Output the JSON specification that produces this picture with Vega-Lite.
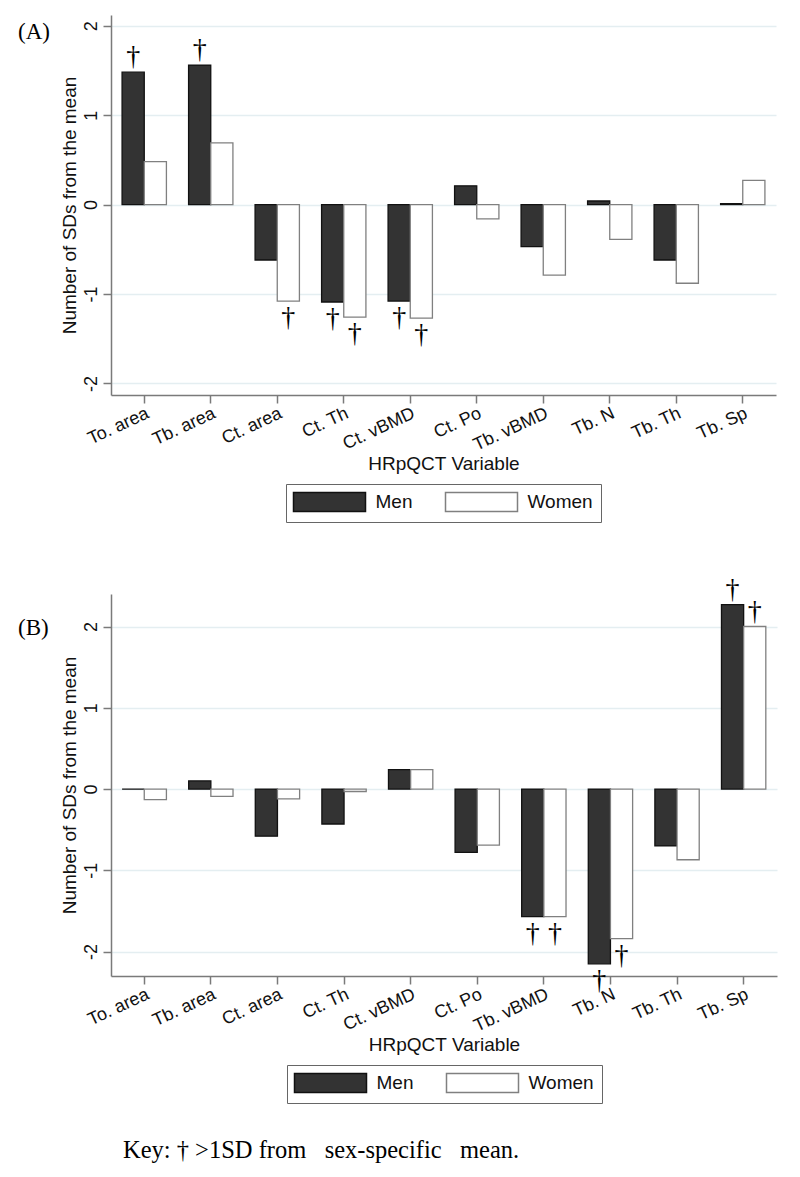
{
  "$schema": "https://vega.github.io/schema/vega-lite/v6.json",
  "background": "white",
  "padding": {"left": 18, "top": 15, "right": 5, "bottom": 5},
  "config": {
    "font": "Liberation Sans",
    "view": {"stroke": null},
    "axis": {
      "labelFont": "Liberation Sans",
      "titleFont": "Liberation Sans",
      "labelColor": "#111111",
      "titleColor": "#111111",
      "titleFontWeight": "normal",
      "domainColor": "#7a7a7a",
      "tickColor": "#7a7a7a",
      "domainWidth": 1.5,
      "tickWidth": 1.5,
      "tickSize": 8,
      "gridColor": "#e4eef1",
      "gridWidth": 1.3,
      "labelFontSize": 18,
      "titleFontSize": 19
    },
    "legend": {
      "orient": "bottom",
      "direction": "horizontal",
      "title": null,
      "symbolType": "M-1.105,-1H6.474V1H-1.105Z",
      "symbolSize": 361,
      "symbolStrokeWidth": 1.5,
      "labelFont": "Liberation Sans",
      "labelFontSize": 19,
      "labelColor": "#111111",
      "labelOffset": 61,
      "columnPadding": 30,
      "padding": 7.5,
      "strokeColor": "#666666",
      "fillColor": "white",
      "offset": 10,
      "layout": {"bottom": {"anchor": "middle"}}
    }
  },
  "data": {
    "values": [
      {"panel": "A", "var": "To. area", "sex": "Men", "value": 1.48, "sig": 1},
      {"panel": "A", "var": "To. area", "sex": "Women", "value": 0.48, "sig": 0},
      {"panel": "A", "var": "Tb. area", "sex": "Men", "value": 1.56, "sig": 1},
      {"panel": "A", "var": "Tb. area", "sex": "Women", "value": 0.69, "sig": 0},
      {"panel": "A", "var": "Ct. area", "sex": "Men", "value": -0.62, "sig": 0},
      {"panel": "A", "var": "Ct. area", "sex": "Women", "value": -1.08, "sig": 1},
      {"panel": "A", "var": "Ct. Th", "sex": "Men", "value": -1.09, "sig": 1},
      {"panel": "A", "var": "Ct. Th", "sex": "Women", "value": -1.26, "sig": 1},
      {"panel": "A", "var": "Ct. vBMD", "sex": "Men", "value": -1.08, "sig": 1},
      {"panel": "A", "var": "Ct. vBMD", "sex": "Women", "value": -1.27, "sig": 1},
      {"panel": "A", "var": "Ct. Po", "sex": "Men", "value": 0.21, "sig": 0},
      {"panel": "A", "var": "Ct. Po", "sex": "Women", "value": -0.16, "sig": 0},
      {"panel": "A", "var": "Tb. vBMD", "sex": "Men", "value": -0.47, "sig": 0},
      {"panel": "A", "var": "Tb. vBMD", "sex": "Women", "value": -0.79, "sig": 0},
      {"panel": "A", "var": "Tb. N", "sex": "Men", "value": 0.04, "sig": 0},
      {"panel": "A", "var": "Tb. N", "sex": "Women", "value": -0.39, "sig": 0},
      {"panel": "A", "var": "Tb. Th", "sex": "Men", "value": -0.62, "sig": 0},
      {"panel": "A", "var": "Tb. Th", "sex": "Women", "value": -0.88, "sig": 0},
      {"panel": "A", "var": "Tb. Sp", "sex": "Men", "value": 0.01, "sig": 0},
      {"panel": "A", "var": "Tb. Sp", "sex": "Women", "value": 0.27, "sig": 0},
      {"panel": "B", "var": "To. area", "sex": "Men", "value": 0.0, "sig": 0},
      {"panel": "B", "var": "To. area", "sex": "Women", "value": -0.13, "sig": 0},
      {"panel": "B", "var": "Tb. area", "sex": "Men", "value": 0.1, "sig": 0},
      {"panel": "B", "var": "Tb. area", "sex": "Women", "value": -0.09, "sig": 0},
      {"panel": "B", "var": "Ct. area", "sex": "Men", "value": -0.58, "sig": 0},
      {"panel": "B", "var": "Ct. area", "sex": "Women", "value": -0.12, "sig": 0},
      {"panel": "B", "var": "Ct. Th", "sex": "Men", "value": -0.43, "sig": 0},
      {"panel": "B", "var": "Ct. Th", "sex": "Women", "value": -0.03, "sig": 0},
      {"panel": "B", "var": "Ct. vBMD", "sex": "Men", "value": 0.24, "sig": 0},
      {"panel": "B", "var": "Ct. vBMD", "sex": "Women", "value": 0.24, "sig": 0},
      {"panel": "B", "var": "Ct. Po", "sex": "Men", "value": -0.78, "sig": 0},
      {"panel": "B", "var": "Ct. Po", "sex": "Women", "value": -0.69, "sig": 0},
      {"panel": "B", "var": "Tb. vBMD", "sex": "Men", "value": -1.57, "sig": 1},
      {"panel": "B", "var": "Tb. vBMD", "sex": "Women", "value": -1.57, "sig": 1},
      {"panel": "B", "var": "Tb. N", "sex": "Men", "value": -2.15, "sig": 1},
      {"panel": "B", "var": "Tb. N", "sex": "Women", "value": -1.84, "sig": 1},
      {"panel": "B", "var": "Tb. Th", "sex": "Men", "value": -0.7, "sig": 0},
      {"panel": "B", "var": "Tb. Th", "sex": "Women", "value": -0.87, "sig": 0},
      {"panel": "B", "var": "Tb. Sp", "sex": "Men", "value": 2.27, "sig": 1},
      {"panel": "B", "var": "Tb. Sp", "sex": "Women", "value": 2.0, "sig": 1}
    ]
  },
  "spacing": 52,
  "title": {
    "text": "Key: † >1SD from\u00a0\u00a0 sex-specific\u00a0\u00a0 mean.",
    "orient": "bottom",
    "anchor": "start",
    "frame": "group",
    "font": "Liberation Serif",
    "fontSize": 24.5,
    "fontWeight": "normal",
    "color": "#000000",
    "dx": 12,
    "offset": 35
  },
  "resolve": {
    "scale": {"y": "independent", "x": "independent", "fill": "independent", "stroke": "independent"},
    "legend": {"fill": "independent", "stroke": "independent"}
  },
  "vconcat": [
    {
      "title": {"text": "(A)", "orient": "top", "anchor": "start", "frame": "bounds", "font": "Liberation Serif", "fontSize": 23, "fontWeight": "normal", "color": "#000000", "dx": -42, "dy": 29, "offset": 0},
      "width": 665,
      "height": 380,
      "transform": [{"filter": "datum.panel === 'A'"}],
      "encoding": {
        "x": {"field": "var", "type": "nominal", "sort": ["To. area", "Tb. area", "Ct. area", "Ct. Th", "Ct. vBMD", "Ct. Po", "Tb. vBMD", "Tb. N", "Tb. Th", "Tb. Sp"], "scale": {"paddingInner": 0, "paddingOuter": 0}, "axis": {"title": "HRpQCT Variable", "labelAngle": -25, "labelAlign": "right", "labelBaseline": "top", "labelPadding": 1, "titlePadding": 0, "grid": false}},
        "xOffset": {"field": "sex", "type": "nominal", "sort": ["Men", "Women"], "scale": {"paddingOuter": 0.5, "paddingInner": 0}},
        "y": {"field": "value", "type": "quantitative", "scale": {"domain": [-2.13, 2.12], "nice": false, "zero": false}, "axis": {"title": "Number of SDs from the mean", "values": [-2, -1, 0, 1, 2], "labelExpr": "'' + datum.value", "labelAngle": -90, "labelAlign": "center", "labelBaseline": "bottom", "labelPadding": 3, "titlePadding": 3, "grid": true}}
      },
      "layer": [
        {
          "mark": {"type": "bar", "strokeWidth": 1.3},
          "encoding": {
            "fill": {"field": "sex", "type": "nominal", "sort": ["Men", "Women"], "scale": {"domain": ["Men", "Women"], "range": ["#333333", "#ffffff"]}},
            "stroke": {"field": "sex", "type": "nominal", "sort": ["Men", "Women"], "scale": {"domain": ["Men", "Women"], "range": ["#111111", "#808080"]}}
          }
        },
        {
          "transform": [{"filter": "datum.sig == 1 && datum.value >= 0"}],
          "mark": {"type": "text", "text": "†", "baseline": "alphabetic", "dy": -7, "font": "Liberation Serif", "fontSize": 28, "color": "#000000"}
        },
        {
          "transform": [{"filter": "datum.sig == 1 && datum.value < 0"}],
          "mark": {"type": "text", "text": "†", "baseline": "top", "dy": 3, "font": "Liberation Serif", "fontSize": 28, "color": "#000000"}
        }
      ]
    },
    {
      "title": {"text": "(B)", "orient": "top", "anchor": "start", "frame": "bounds", "font": "Liberation Serif", "fontSize": 23, "fontWeight": "normal", "color": "#000000", "dx": -42, "dy": 64, "offset": 0},
      "width": 666,
      "height": 382,
      "transform": [{"filter": "datum.panel === 'B'"}],
      "encoding": {
        "x": {"field": "var", "type": "nominal", "sort": ["To. area", "Tb. area", "Ct. area", "Ct. Th", "Ct. vBMD", "Ct. Po", "Tb. vBMD", "Tb. N", "Tb. Th", "Tb. Sp"], "scale": {"paddingInner": 0, "paddingOuter": 0}, "axis": {"title": "HRpQCT Variable", "labelAngle": -25, "labelAlign": "right", "labelBaseline": "top", "labelPadding": 1, "titlePadding": 0, "grid": false}},
        "xOffset": {"field": "sex", "type": "nominal", "sort": ["Men", "Women"], "scale": {"paddingOuter": 0.5, "paddingInner": 0}},
        "y": {"field": "value", "type": "quantitative", "scale": {"domain": [-2.3, 2.4], "nice": false, "zero": false}, "axis": {"title": "Number of SDs from the mean", "values": [-2, -1, 0, 1, 2], "labelExpr": "'' + datum.value", "labelAngle": -90, "labelAlign": "center", "labelBaseline": "bottom", "labelPadding": 3, "titlePadding": 3, "grid": true}}
      },
      "layer": [
        {
          "mark": {"type": "bar", "strokeWidth": 1.3},
          "encoding": {
            "fill": {"field": "sex", "type": "nominal", "sort": ["Men", "Women"], "scale": {"domain": ["Men", "Women"], "range": ["#333333", "#ffffff"]}},
            "stroke": {"field": "sex", "type": "nominal", "sort": ["Men", "Women"], "scale": {"domain": ["Men", "Women"], "range": ["#111111", "#808080"]}}
          }
        },
        {
          "transform": [{"filter": "datum.sig == 1 && datum.value >= 0"}],
          "mark": {"type": "text", "text": "†", "baseline": "alphabetic", "dy": -7, "font": "Liberation Serif", "fontSize": 28, "color": "#000000"}
        },
        {
          "transform": [{"filter": "datum.sig == 1 && datum.value < 0"}],
          "mark": {"type": "text", "text": "†", "baseline": "top", "dy": 3, "font": "Liberation Serif", "fontSize": 28, "color": "#000000"}
        }
      ]
    }
  ]
}
